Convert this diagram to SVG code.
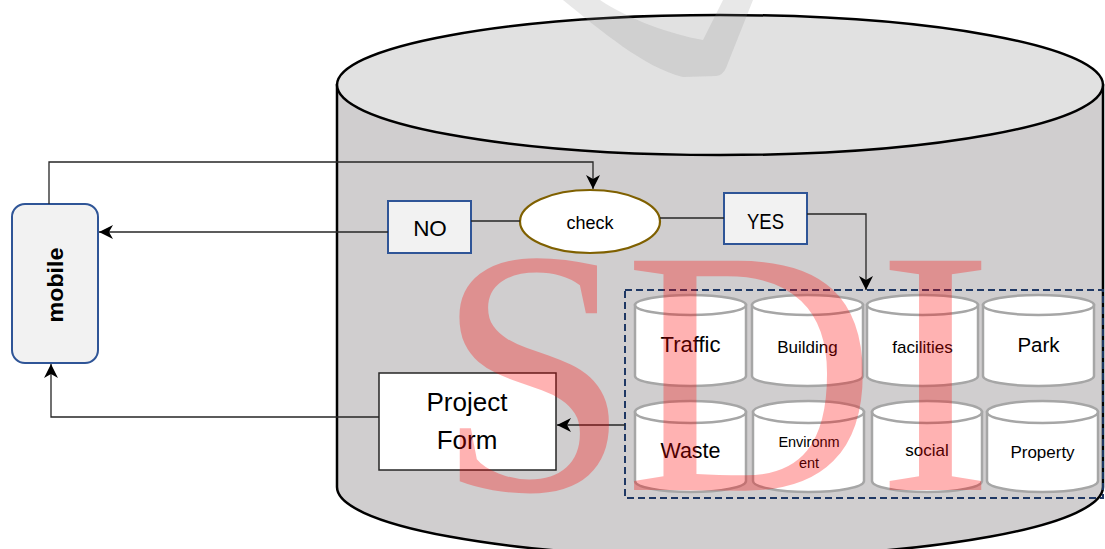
<svg xmlns="http://www.w3.org/2000/svg" width="1105" height="549" viewBox="0 0 1105 549">
<style>
.t{font-family:"Liberation Sans",Arial,sans-serif;fill:#000;text-anchor:middle}
.blue{fill:#f2f2f2;stroke:#2f5597;stroke-width:2}
.db{fill:#fff;stroke:#a6a6a6;stroke-width:2.5}
.ln{fill:none;stroke:#262626;stroke-width:1.3}
</style>
<defs>
<marker id="ah" viewBox="0 0 14 14" markerWidth="14" markerHeight="14" refX="14" refY="7" orient="auto" markerUnits="userSpaceOnUse">
<path d="M0,0 L14,7 L0,14 L4,7 Z" fill="#000"/>
</marker>
</defs>
<rect width="1105" height="549" fill="#fff"/>
<g id="sdi-store">
<path d="M337,85 V487 A383,70 0 0 0 1103,487 V85 Z" fill="#d0cecf" stroke="#000" stroke-width="2.5"/>
<ellipse cx="720" cy="85" rx="383" ry="70" fill="#e1e1e1" stroke="#000" stroke-width="2.5"/>
</g>
<g id="mobile">
<rect class="blue" x="12" y="204" width="86" height="159" rx="13"/>
<text class="t" transform="translate(63,285) rotate(-90)" font-size="22" font-weight="bold" textLength="75" lengthAdjust="spacingAndGlyphs">mobile</text>
</g>
<g id="check">
<ellipse cx="590" cy="221.5" rx="70" ry="31.5" fill="#fff" stroke="#7f6000" stroke-width="2.2"/>
<text class="t" x="590" y="229" font-size="18">check</text>
</g>
<g id="no">
<rect class="blue" x="388" y="201" width="83" height="52"/>
<text class="t" x="430" y="236" font-size="22.5">NO</text>
</g>
<g id="yes">
<rect class="blue" x="724" y="193" width="83" height="51"/>
<text class="t" x="765.5" y="229" font-size="22.5" textLength="37" lengthAdjust="spacingAndGlyphs">YES</text>
</g>
<g id="project-form">
<rect x="379" y="373" width="177" height="97" fill="#fff" stroke="#262626" stroke-width="1.5"/>
<text class="t" x="467" y="411" font-size="26">Project</text>
<text class="t" x="467" y="449" font-size="26">Form</text>
</g>
<g id="layers">
<rect x="625" y="290" width="478" height="208" fill="none" stroke="#1f3864" stroke-width="2" stroke-dasharray="7,4"/>
<g id="traffic"><path class="db" d="M635,305 V376 A55.5,10 0 0 0 746,376 V305 Z"/><ellipse class="db" cx="690.5" cy="305" rx="55.5" ry="10"/><text class="t" x="690.5" y="352" font-size="22">Traffic</text></g>
<g id="building"><path class="db" d="M752,305 V376 A55.5,10 0 0 0 863,376 V305 Z"/><ellipse class="db" cx="807.5" cy="305" rx="55.5" ry="10"/><text class="t" x="807.5" y="353" font-size="17">Building</text></g>
<g id="facilities"><path class="db" d="M867,305 V376 A55.5,10 0 0 0 978,376 V305 Z"/><ellipse class="db" cx="922.5" cy="305" rx="55.5" ry="10"/><text class="t" x="922.5" y="353" font-size="17">facilities</text></g>
<g id="park"><path class="db" d="M983,305 V376 A55.5,10 0 0 0 1094,376 V305 Z"/><ellipse class="db" cx="1038.5" cy="305" rx="55.5" ry="10"/><text class="t" x="1038.5" y="352" font-size="20.5">Park</text></g>
<g id="waste"><path class="db" d="M635,412 V481 A55.5,11 0 0 0 746,481 V412 Z"/><ellipse class="db" cx="690.5" cy="412" rx="55.5" ry="11"/><text class="t" x="690.5" y="458" font-size="21.5">Waste</text></g>
<g id="environment"><path class="db" d="M753,412 V481 A55.5,11 0 0 0 864,481 V412 Z"/><ellipse class="db" cx="808.5" cy="412" rx="55.5" ry="11"/><text class="t" x="809" y="447" font-size="14.5">Environm</text><text class="t" x="809" y="468" font-size="14.5">ent</text></g>
<g id="social"><path class="db" d="M872,412 V481 A55,11 0 0 0 982,481 V412 Z"/><ellipse class="db" cx="927" cy="412" rx="55" ry="11"/><text class="t" x="927" y="456" font-size="17">social</text></g>
<g id="property"><path class="db" d="M987,412 V481 A55.5,11 0 0 0 1098,481 V412 Z"/><ellipse class="db" cx="1042.5" cy="412" rx="55.5" ry="11"/><text class="t" x="1042.5" y="458" font-size="17">Property</text></g>
</g>
<g id="connectors">
<path class="ln" d="M49,204 V162 H593 V189" marker-end="url(#ah)"/>
<path class="ln" d="M388,232 H99" marker-end="url(#ah)"/>
<path class="ln" d="M520,221 H471"/>
<path class="ln" d="M660,218 H724"/>
<path class="ln" d="M807,214 H866 V290" marker-end="url(#ah)"/>
<path class="ln" d="M625,425 H557" marker-end="url(#ah)"/>
<path class="ln" d="M379,417 H51 V364" marker-end="url(#ah)"/>
</g>
<g id="watermarks">
<path d="M563,0 C600,30 645,68 683,77 L716,76 Q723,75 726,68 L753,0 L723,0 L703,40 C670,34 630,20 600,0 Z" fill="#8c8c8c" fill-opacity="0.2"/>
<text x="436 624 877" y="490" font-family="Liberation Serif,'Times New Roman',serif" font-size="350" fill="#ff0000" fill-opacity="0.3">SDI</text>
</g>
</svg>
